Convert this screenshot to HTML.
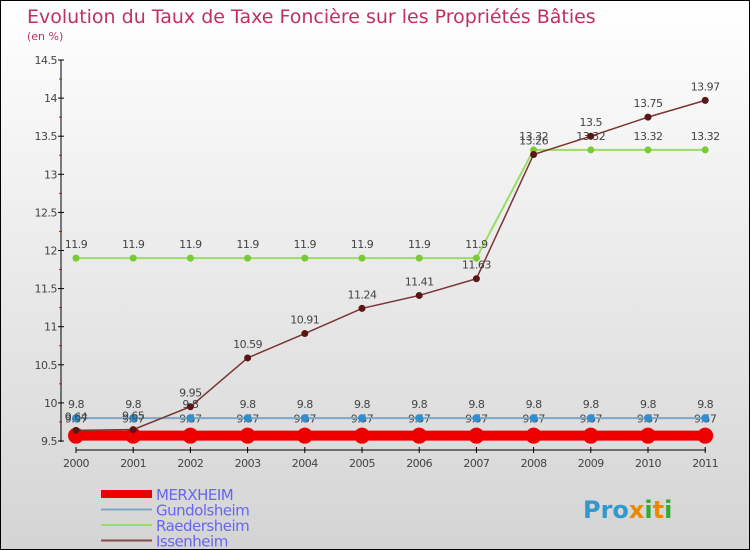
<!DOCTYPE html>
<html><head><meta charset="utf-8"><style>
body{margin:0;}
#c{position:relative;width:748px;height:548px;border:1px solid #000;background:linear-gradient(#fff,#d4d4d4);font-family:"DejaVu Sans","Liberation Sans",sans-serif;overflow:hidden}
svg text{font-family:"DejaVu Sans","Liberation Sans",sans-serif}
</style></head><body>
<div id="c">
<svg id="s" width="748" height="548">
<text x="26" y="22" font-size="19" fill="#c0305f">Evolution du Taux de Taxe Foncière sur les Propriétés Bâties</text>
<text x="26" y="39" font-size="11" fill="#c0305f">(en %)</text>
</svg>
</div>
<script>
const years=[2000,2001,2002,2003,2004,2005,2006,2007,2008,2009,2010,2011];
const yTicks=[9.5,10,10.5,11,11.5,12,12.5,13,13.5,14,14.5];
const merxheim=[9.57,9.57,9.57,9.57,9.57,9.57,9.57,9.57,9.57,9.57,9.57,9.57];
const gundolsheim=[9.8,9.8,9.8,9.8,9.8,9.8,9.8,9.8,9.8,9.8,9.8,9.8];
const raedersheim=[11.9,11.9,11.9,11.9,11.9,11.9,11.9,11.9,13.32,13.32,13.32,13.32];
const issenheim=[9.64,9.65,9.95,10.59,10.91,11.24,11.41,11.63,13.26,13.5,13.75,13.97];
const NS='http://www.w3.org/2000/svg';
const s=document.getElementById('s');
const X=i=>75+i*57.2;
const Y=v=>440-(v-9.5)*76.2;
function mk(t,a,p){const e=document.createElementNS(NS,t);for(const k in a)e.setAttribute(k,a[k]);(p||s).appendChild(e);return e;}
// axes
let ax=mk('line',{x1:60,y1:59,x2:60,y2:441,stroke:'#000','stroke-width':1});


let bx=mk('line',{x1:75,y1:449,x2:705,y2:449,stroke:'#000','stroke-width':1});


yTicks.forEach(v=>{
  mk('line',{x1:57,y1:Y(v),x2:63,y2:Y(v),stroke:'#000'});
  if(v<14.5) mk('line',{x1:58,y1:Y(v+0.25),x2:61,y2:Y(v+0.25),stroke:'#e00'});
  let t=mk('text',{x:56,y:Y(v)+4,'text-anchor':'end','font-size':11,fill:'#444','letter-spacing':'-0.5'});
  t.textContent=String(v);
  
  
});
years.forEach((y,i)=>{
  mk('line',{x1:X(i),y1:446,x2:X(i),y2:452,stroke:'#000'});
  let t=mk('text',{x:X(i),y:466,'text-anchor':'middle','font-size':11,fill:'#444','letter-spacing':'-0.5'});
  t.textContent=String(y);
  
  
});
function series(vals,color,w,r,name,dy,dot){
  const g=mk('g',{});
  
  
  mk('polyline',{points:vals.map((v,i)=>X(i)+','+Y(v)).join(' '),fill:'none',stroke:color,'stroke-width':w},g);
  vals.forEach((v,i)=>{
    let c=mk('circle',{cx:X(i),cy:Y(v),r:r,fill:dot},g);
    
    
    let t=mk('text',{x:X(i),y:Y(v)+dy,'text-anchor':'middle','font-size':11,fill:'#444','letter-spacing':'-0.5'},g);
    t.textContent=String(v);
    
    
  });
}
series(merxheim,'#ee0000',10,8,'merxheim',-13,'#ee0000');
series(gundolsheim,'#7ea7c4',2,4,'gundolsheim',-10,'#2f8fd0');
series(raedersheim,'#99dd66',2,3.5,'raedersheim',-10,'#77cc33');
series(issenheim,'#7a3535',1.5,3.5,'issenheim',-10,'#5a1515');
// legend
const leg=[['MERXHEIM','#ee0000',8],['Gundolsheim','#7ea7c4',2],['Raedersheim','#99dd66',2],['Issenheim','#8a4a4a',2]];
leg.forEach((l,i)=>{
  const y=493+i*15.5;
  const g=mk('g',{});
  
  
  mk('line',{x1:100,y1:y,x2:151,y2:y,stroke:l[1],'stroke-width':l[2]},g);
  let t=mk('text',{x:155,y:y+6,'font-size':15,fill:'#6666ee','letter-spacing':'-0.5'},g);
  t.textContent=l[0];
});
// logo
let lg=mk('text',{x:582,y:517,'font-size':24,'font-weight':'bold',fill:'#3399cc'});


lg.innerHTML='Pro<tspan fill="#ee8800">x</tspan><tspan fill="#33aa33">i</tspan><tspan fill="#ee8800">t</tspan><tspan fill="#33aa33">i</tspan>';
</script>
</body></html>
